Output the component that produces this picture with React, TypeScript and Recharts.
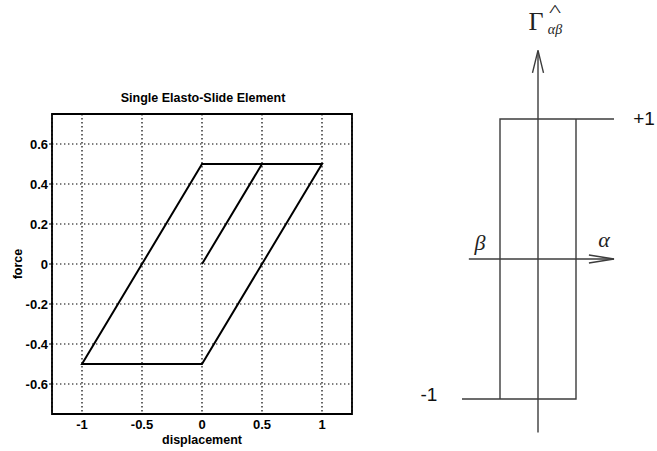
import React from 'react';
import { LineChart, Line, XAxis, YAxis, CartesianGrid, ReferenceArea } from 'recharts';

// ---- Left plot: single elasto-slide element hysteresis ----
const loopDisplacement = [0, 0.5, 1, 0, -1, 0, 0.5];
const loopForce = [0, 0.5, 0.5, -0.5, -0.5, 0.5, 0.5];
const xTicks = [-1, -0.5, 0, 0.5, 1];
const yTicks = [-0.6, -0.4, -0.2, 0, 0.2, 0.4, 0.6];
const xDomain = [-1.25, 1.25];
const yDomain = [-0.75, 0.75];
const plotTitle = 'Single Elasto-Slide Element';
const xLabel = 'displacement';
const yLabel = 'force';

// ---- Right diagram: relay hysteron ----
const upperBranchX = [-1, -1, 2];
const upperBranchY = [-1, 1, 1];
const lowerBranchX = [-2, 1, 1];
const lowerBranchY = [-1, -1, 1];
const vAxisX = [0, 0];
const vAxisY = [-1.24, 1.49];
const vArrowX = [-0.145, 0, 0.145];
const vArrowY = [1.33, 1.49, 1.33];
const hAxisX = [-1.82, 2.0];
const hAxisY = [0, 0];
const hArrowX = [1.34, 2.0, 1.34];
const hArrowY = [0.029, 0, -0.029];
const relayDomainX = [-4, 3];
const relayDomainY = [-1.35, 1.75];

const zip = (xs: number[], ys: number[]) => xs.map((x, i) => ({ x, y: ys[i] }));
const loopData = loopDisplacement.map((d, i) => ({ d, f: loopForce[i] }));

const sans = '"Liberation Sans", Arial, Helvetica, sans-serif';
const serif = '"Liberation Serif", "Times New Roman", serif';

const Txt = ({ x, y, children, style }: any) => (
  <div
    style={{
      position: 'absolute',
      left: x,
      top: y,
      transform: 'translate(-50%, -50%)',
      whiteSpace: 'nowrap',
      lineHeight: 1,
      ...style,
    }}
  >
    {children}
  </div>
);

export default function App() {
  const lineStroke = '#3c3c3c';
  const tickStyle = { fill: '#000', fontFamily: sans, fontWeight: 'bold', fontSize: 13 };
  return (
    <div style={{ position: 'absolute', left: 0, top: 0, width: 657, height: 451, background: '#fff', overflow: 'hidden' }}>
      <div style={{ position: 'absolute', left: 0, top: 0 }}>
        <LineChart width={370} height={451} data={loopData} margin={{ top: 114, right: 18, bottom: 0, left: 0 }}>
          <CartesianGrid stroke="#000" strokeDasharray="1.4 2.6" strokeWidth={1.2} />
          <XAxis
            dataKey="d"
            type="number"
            domain={xDomain}
            ticks={xTicks}
            height={37}
            axisLine={false}
            tickLine={false}
            tickSize={0}
            tickMargin={6}
            allowDataOverflow
            tick={tickStyle}
          />
          <YAxis
            type="number"
            domain={yDomain}
            ticks={yTicks}
            width={52}
            axisLine={false}
            tickLine={{ stroke: '#000' }}
            tickSize={3}
            tickMargin={1}
            allowDataOverflow
            tick={tickStyle}
          />
          <ReferenceArea x1={xDomain[0]} x2={xDomain[1]} y1={yDomain[0]} y2={yDomain[1]} fill="none" stroke="#000" strokeWidth={1.8} />
          <Line dataKey="f" type="linear" stroke="#000" strokeWidth={2} dot={false} isAnimationActive={false} />
        </LineChart>
      </div>

      <div style={{ position: 'absolute', left: 386, top: 0 }}>
        <LineChart width={266} height={451} margin={{ top: 14, right: 0, bottom: 3, left: 0 }}>
          <XAxis dataKey="x" type="number" domain={relayDomainX} hide allowDataOverflow />
          <YAxis type="number" domain={relayDomainY} hide allowDataOverflow />
          <Line data={zip(vAxisX, vAxisY)} dataKey="y" type="linear" stroke={lineStroke} strokeWidth={1.4} dot={false} isAnimationActive={false} />
          <Line data={zip(vArrowX, vArrowY)} dataKey="y" type="linear" stroke={lineStroke} strokeWidth={1.4} dot={false} isAnimationActive={false} />
          <Line data={zip(hAxisX, hAxisY)} dataKey="y" type="linear" stroke={lineStroke} strokeWidth={1.4} dot={false} isAnimationActive={false} />
          <Line data={zip(hArrowX, hArrowY)} dataKey="y" type="linear" stroke={lineStroke} strokeWidth={1.4} dot={false} isAnimationActive={false} />
          <Line data={zip(upperBranchX, upperBranchY)} dataKey="y" type="linear" stroke={lineStroke} strokeWidth={1.4} dot={false} isAnimationActive={false} />
          <Line data={zip(lowerBranchX, lowerBranchY)} dataKey="y" type="linear" stroke={lineStroke} strokeWidth={1.4} dot={false} isAnimationActive={false} />
        </LineChart>
      </div>

      {/* left plot texts */}
      <Txt x={203} y={98} style={{ fontFamily: sans, fontWeight: 'bold', fontSize: 12.5, color: '#000' }}>{plotTitle}</Txt>
      <Txt x={202} y={440} style={{ fontFamily: sans, fontWeight: 'bold', fontSize: 12.5, color: '#000' }}>{xLabel}</Txt>
      <Txt x={18} y={264} style={{ fontFamily: sans, fontWeight: 'bold', fontSize: 12.5, color: '#000', transform: 'translate(-50%, -50%) rotate(-90deg)' }}>{yLabel}</Txt>

      {/* right diagram texts */}
      <Txt x={644} y={118} style={{ fontFamily: sans, fontSize: 19, color: '#111' }}>+1</Txt>
      <Txt x={429} y={394} style={{ fontFamily: sans, fontSize: 19, color: '#111' }}>-1</Txt>
      <Txt x={480} y={243} style={{ fontFamily: serif, fontStyle: 'italic', fontSize: 22, color: '#222' }}>β</Txt>
      <Txt x={604} y={240} style={{ fontFamily: serif, fontStyle: 'italic', fontSize: 22, color: '#222' }}>α</Txt>
      <Txt x={536} y={22} style={{ fontFamily: serif, fontSize: 26, color: '#222' }}>Γ</Txt>
      <Txt x={555} y={30} style={{ fontFamily: serif, fontStyle: 'italic', fontSize: 14, color: '#222' }}>αβ</Txt>
      <Txt x={555} y={11} style={{ fontFamily: serif, fontSize: 16, color: '#222', transform: 'translate(-50%, -50%) scaleX(1.6)' }}>^</Txt>
    </div>
  );
}
